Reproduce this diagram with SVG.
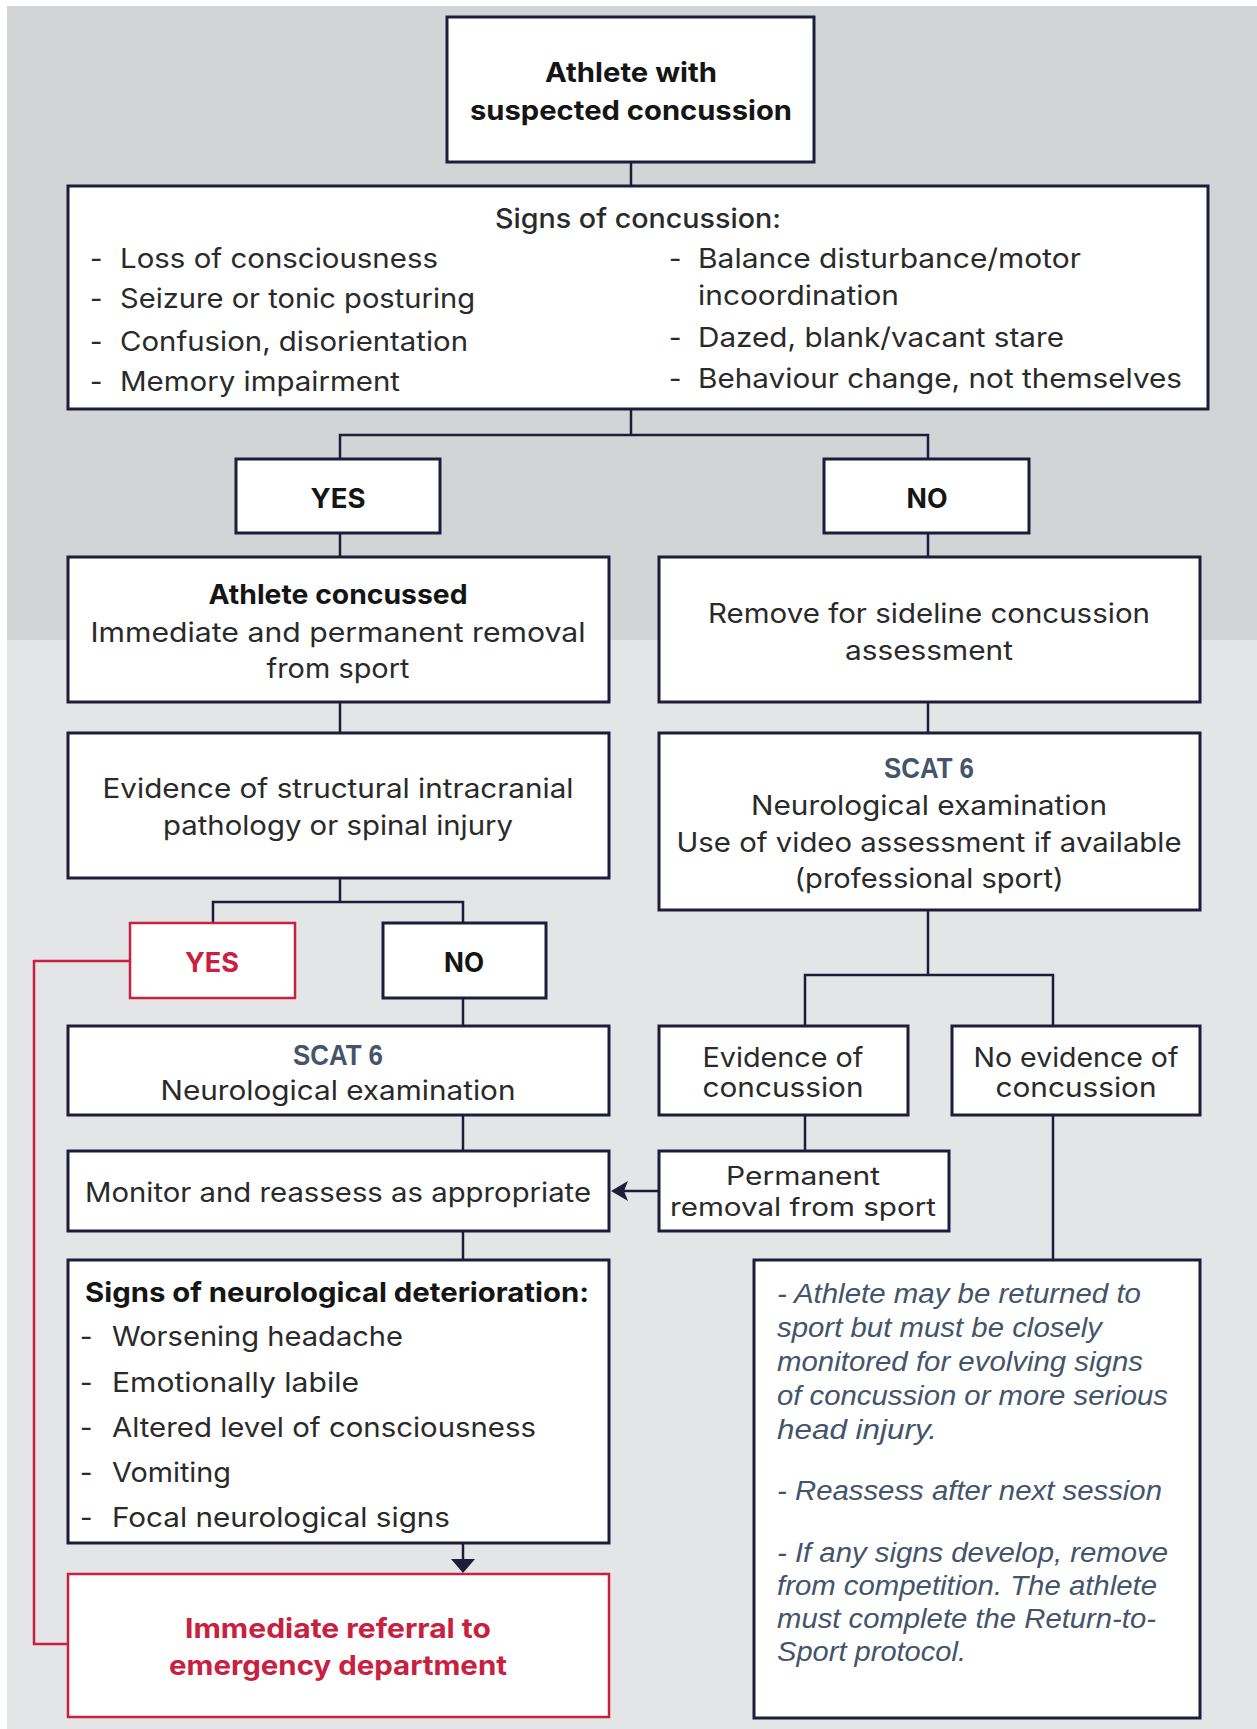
<svg xmlns="http://www.w3.org/2000/svg" width="1257" height="1729" viewBox="0 0 1257 1729">
  <style>
    .box{fill:#fff;stroke:#1d1d3b;stroke-width:3}
    .rbox{fill:#fff;stroke:#c8203e;stroke-width:2.5}
    .ln{fill:none;stroke:#1d1d3b;stroke-width:2.5}
    .rln{fill:none;stroke:#c8203e;stroke-width:2.5}
    .t{font-family:Inter,"Liberation Sans",sans-serif;font-size:27px;fill:#2a2a2a}
    .sm{font-size:25px}
    .b{font-weight:700;fill:#151515}
    .c{text-anchor:middle}
    .red{fill:#c8203e}
    .scat{font-family:"Liberation Sans",sans-serif;font-weight:700;font-size:30px;fill:#44546a;text-anchor:middle}
    .it{font-family:"Liberation Sans",sans-serif;font-style:italic;font-size:27px;fill:#44546a}
  </style>

  <!-- backdrop bands -->
  <rect x="0" y="0" width="1257" height="1729" fill="#fff"/>
  <rect x="7" y="6" width="1250" height="634" fill="#d3d4d6"/>
  <rect x="7" y="640" width="1250" height="1089" fill="#e4e5e7"/>

  <!-- connectors -->
  <g id="connectors">
    <path class="ln" d="M631,162 V186"/>
    <path class="ln" d="M631,409 V435 M340,459 V435 H928 V459"/>
    <path class="ln" d="M340,533 V557 M928,533 V557"/>
    <path class="ln" d="M340,702 V733 M928,702 V733"/>
    <path class="ln" d="M340,878 V902 M213,923 V902 H463 V923"/>
    <path class="ln" d="M463,998 V1025"/>
    <path class="ln" d="M928,910 V975 M805,1026 V975 H1053 V1026"/>
    <path class="ln" d="M805,1115 V1151"/>
    <path class="ln" d="M463,1115 V1151"/>
    <path class="ln" d="M463,1231 V1260"/>
    <path class="ln" d="M1053,1115 V1260"/>
    <path class="ln" d="M659,1191 H620"/>
    <path d="M611,1191 L628,1181 L624,1191 L628,1201 Z" fill="#1d1d3b"/>
    <path class="ln" d="M463,1543 V1560"/>
    <path d="M463,1573 L451,1559 L475,1559 Z" fill="#1d1d3b"/>
    <path class="rln" d="M130,961 H34 V1644 H68"/>
  </g>

  <g id="start">
    <rect class="box" x="447" y="17" width="367" height="145"/>
    <text class="t b c" x="631" y="82" textLength="172" lengthAdjust="spacingAndGlyphs">Athlete with</text>
    <text class="t b c" x="631" y="120" textLength="322" lengthAdjust="spacingAndGlyphs">suspected concussion</text>
  </g>

  <g id="signs">
    <rect class="box" x="68" y="186" width="1140" height="223"/>
    <text class="t c" x="638" y="228" textLength="286" lengthAdjust="spacingAndGlyphs" font-weight="500">Signs of concussion:</text>
    <text class="t" x="90" y="268">-</text>
    <text class="t" x="120" y="268" textLength="318" lengthAdjust="spacingAndGlyphs">Loss of consciousness</text>
    <text class="t" x="90" y="308">-</text>
    <text class="t" x="120" y="308" textLength="355" lengthAdjust="spacingAndGlyphs">Seizure or tonic posturing</text>
    <text class="t" x="90" y="351">-</text>
    <text class="t" x="120" y="351" textLength="348" lengthAdjust="spacingAndGlyphs">Confusion, disorientation</text>
    <text class="t" x="90" y="391">-</text>
    <text class="t" x="120" y="391" textLength="280" lengthAdjust="spacingAndGlyphs">Memory impairment</text>
    <text class="t" x="669" y="268">-</text>
    <text class="t" x="698" y="268" textLength="383" lengthAdjust="spacingAndGlyphs">Balance disturbance/motor</text>
    <text class="t" x="698" y="305" textLength="201" lengthAdjust="spacingAndGlyphs">incoordination</text>
    <text class="t" x="669" y="347">-</text>
    <text class="t" x="698" y="347" textLength="366" lengthAdjust="spacingAndGlyphs">Dazed, blank/vacant stare</text>
    <text class="t" x="669" y="388">-</text>
    <text class="t" x="698" y="388" textLength="484" lengthAdjust="spacingAndGlyphs">Behaviour change, not themselves</text>
  </g>

  <g id="yes1">
    <rect class="box" x="236" y="459" width="204" height="74"/>
    <text class="t b c" x="338" y="508" textLength="55" lengthAdjust="spacingAndGlyphs">YES</text>
  </g>
  <g id="no1">
    <rect class="box" x="824" y="459" width="205" height="74"/>
    <text class="t b c" x="927" y="508" textLength="41" lengthAdjust="spacingAndGlyphs">NO</text>
  </g>

  <g id="concussed">
    <rect class="box" x="68" y="557" width="541" height="145"/>
    <text class="t b c" x="338" y="604" textLength="259" lengthAdjust="spacingAndGlyphs">Athlete concussed</text>
    <text class="t c" x="338" y="642" textLength="495" lengthAdjust="spacingAndGlyphs">Immediate and permanent removal</text>
    <text class="t c" x="338" y="678" textLength="143" lengthAdjust="spacingAndGlyphs">from sport</text>
  </g>
  <g id="sideline">
    <rect class="box" x="659" y="557" width="541" height="145"/>
    <text class="t c" x="929" y="623" textLength="442" lengthAdjust="spacingAndGlyphs">Remove for sideline concussion</text>
    <text class="t c" x="929" y="660" textLength="168" lengthAdjust="spacingAndGlyphs">assessment</text>
  </g>

  <g id="structural">
    <rect class="box" x="68" y="733" width="541" height="145"/>
    <text class="t c" x="338" y="798" textLength="471" lengthAdjust="spacingAndGlyphs">Evidence of structural intracranial</text>
    <text class="t c" x="338" y="835" textLength="350" lengthAdjust="spacingAndGlyphs">pathology or spinal injury</text>
  </g>
  <g id="scat-sideline">
    <rect class="box" x="659" y="733" width="541" height="177"/>
    <text class="scat" x="929" y="778" textLength="90" lengthAdjust="spacingAndGlyphs">SCAT 6</text>
    <text class="t c" x="929" y="815" textLength="356" lengthAdjust="spacingAndGlyphs">Neurological examination</text>
    <text class="t c" x="929" y="852" textLength="505" lengthAdjust="spacingAndGlyphs">Use of video assessment if available</text>
    <text class="t c" x="929" y="888" textLength="269" lengthAdjust="spacingAndGlyphs">(professional sport)</text>
  </g>

  <g id="yes2">
    <rect class="rbox" x="130" y="923" width="165" height="75"/>
    <text class="t b c red" x="212" y="972" textLength="54" lengthAdjust="spacingAndGlyphs">YES</text>
  </g>
  <g id="no2">
    <rect class="box" x="383" y="923" width="163" height="75"/>
    <text class="t b c" x="464" y="972" textLength="40" lengthAdjust="spacingAndGlyphs">NO</text>
  </g>

  <g id="scat-exam">
    <rect class="box" x="68" y="1026" width="541" height="89"/>
    <text class="scat" x="338" y="1065" textLength="90" lengthAdjust="spacingAndGlyphs">SCAT 6</text>
    <text class="t c" x="338" y="1100" textLength="355" lengthAdjust="spacingAndGlyphs">Neurological examination</text>
  </g>
  <g id="evidence">
    <rect class="box" x="659" y="1026" width="249" height="89"/>
    <text class="t c" x="783" y="1067" textLength="161" lengthAdjust="spacingAndGlyphs">Evidence of</text>
    <text class="t c" x="783" y="1097" textLength="161" lengthAdjust="spacingAndGlyphs">concussion</text>
  </g>
  <g id="no-evidence">
    <rect class="box" x="952" y="1026" width="248" height="89"/>
    <text class="t c" x="1076" y="1067" textLength="205" lengthAdjust="spacingAndGlyphs">No evidence of</text>
    <text class="t c" x="1076" y="1097" textLength="161" lengthAdjust="spacingAndGlyphs">concussion</text>
  </g>

  <g id="monitor">
    <rect class="box" x="68" y="1151" width="541" height="80"/>
    <text class="t c" x="338" y="1202" textLength="506" lengthAdjust="spacingAndGlyphs">Monitor and reassess as appropriate</text>
  </g>
  <g id="permanent">
    <rect class="box" x="659" y="1151" width="290" height="80"/>
    <text class="t sm c" x="803" y="1185" textLength="154" lengthAdjust="spacingAndGlyphs">Permanent</text>
    <text class="t sm c" x="803" y="1216" textLength="266" lengthAdjust="spacingAndGlyphs">removal from sport</text>
  </g>

  <g id="deterioration">
    <rect class="box" x="68" y="1260" width="541" height="283"/>
    <text class="t b" x="85" y="1302" textLength="504" lengthAdjust="spacingAndGlyphs">Signs of neurological deterioration:</text>
    <text class="t" x="80" y="1346">-</text>
    <text class="t" x="112" y="1346" textLength="291" lengthAdjust="spacingAndGlyphs">Worsening headache</text>
    <text class="t" x="80" y="1392">-</text>
    <text class="t" x="112" y="1392" textLength="247" lengthAdjust="spacingAndGlyphs">Emotionally labile</text>
    <text class="t" x="80" y="1437">-</text>
    <text class="t" x="112" y="1437" textLength="424" lengthAdjust="spacingAndGlyphs">Altered level of consciousness</text>
    <text class="t" x="80" y="1482">-</text>
    <text class="t" x="112" y="1482" textLength="119" lengthAdjust="spacingAndGlyphs">Vomiting</text>
    <text class="t" x="80" y="1527">-</text>
    <text class="t" x="112" y="1527" textLength="338" lengthAdjust="spacingAndGlyphs">Focal neurological signs</text>
  </g>

  <g id="referral">
    <rect class="rbox" x="68" y="1574" width="541" height="143"/>
    <text class="t b c red" x="338" y="1638" textLength="306" lengthAdjust="spacingAndGlyphs">Immediate referral to</text>
    <text class="t b c red" x="338" y="1675" textLength="338" lengthAdjust="spacingAndGlyphs">emergency department</text>
  </g>

  <g id="return-to-sport">
    <rect class="box" x="754" y="1260" width="446" height="458"/>
    <text class="it" x="777" y="1303" textLength="364" lengthAdjust="spacingAndGlyphs">- Athlete may be returned to</text>
    <text class="it" x="777" y="1337" textLength="325" lengthAdjust="spacingAndGlyphs">sport but must be closely</text>
    <text class="it" x="777" y="1371" textLength="366" lengthAdjust="spacingAndGlyphs">monitored for evolving signs</text>
    <text class="it" x="777" y="1405" textLength="391" lengthAdjust="spacingAndGlyphs">of concussion or more serious</text>
    <text class="it" x="777" y="1439" textLength="160" lengthAdjust="spacingAndGlyphs">head injury.</text>
    <text class="it" x="777" y="1500" textLength="385" lengthAdjust="spacingAndGlyphs">- Reassess after next session</text>
    <text class="it" x="777" y="1562" textLength="391" lengthAdjust="spacingAndGlyphs">- If any signs develop, remove</text>
    <text class="it" x="777" y="1595" textLength="380" lengthAdjust="spacingAndGlyphs">from competition. The athlete</text>
    <text class="it" x="777" y="1628" textLength="379" lengthAdjust="spacingAndGlyphs">must complete the Return-to-</text>
    <text class="it" x="777" y="1661" textLength="189" lengthAdjust="spacingAndGlyphs">Sport protocol.</text>
  </g>
</svg>
